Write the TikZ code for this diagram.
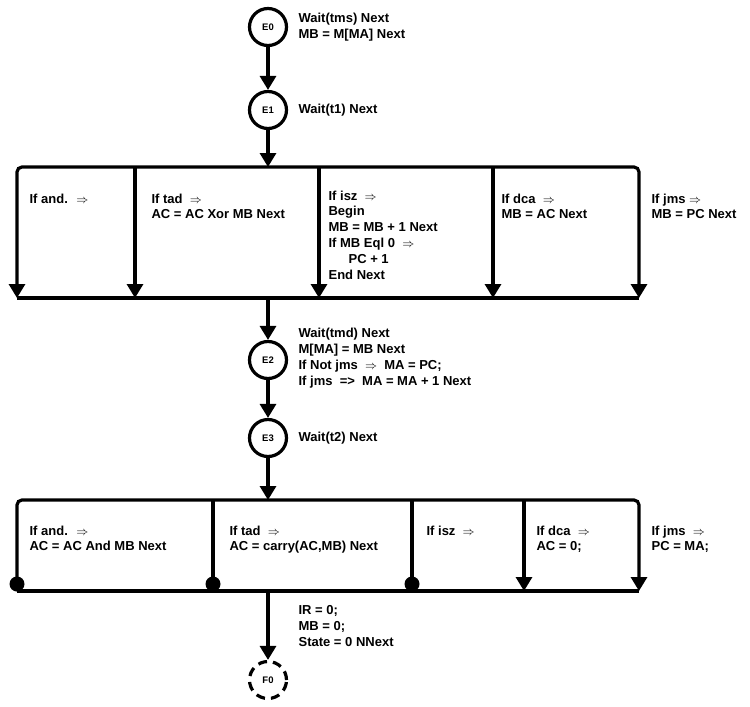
\documentclass[tikz,border=0pt]{standalone}
\usepackage{fontspec}
\setmainfont{Liberation Sans}
\usetikzlibrary{arrows.meta}
\begin{document}
\begin{tikzpicture}[x=1pt, y=-1pt, line width=3.2pt,
    tip/.style={-{Triangle[width=16pt,length=14pt]}},
    state/.style={circle, draw, line width=3.2pt, minimum size=37pt, inner sep=0pt, font=\fontsize{9.5}{10}\selectfont\bfseries},
    lbl/.style={anchor=west, align=left, inner sep=0pt, font=\fontsize{13}{15.8}\selectfont\bfseries},
    cell/.style={lbl, anchor=north west},
    dot/.style={circle, fill, inner sep=0pt, minimum size=15pt}]
  \useasboundingbox (0,0) rectangle (750,707);
  \node[state] (e0) at (268,27) {E0};
  \node[state] (e1) at (268,110) {E1};
  \node[state] (e2) at (268,360) {E2};
  \node[state] (e3) at (268,438) {E3};
  \node[state, dash pattern=on 9pt off 6pt] (f0) at (268,680) {F0};
  \node[lbl] (w0) at (297,27) {Wait(tms) Next\\MB = M[MA] Next};
  \node[lbl] (w1) at (297,110) {Wait(t1) Next};
  \node[lbl] (w2) at (297,358) {Wait(tmd) Next\\M[MA] = MB Next\\If Not jms \ $\Rightarrow$ \ MA = PC;\\If jms \ => \ MA = MA + 1 Next};
  \node[lbl] (w3) at (297,438) {Wait(t2) Next};
  \node[lbl] (w4) at (297,626) {IR = 0;\\MB = 0;\\State = 0 NNext};
  \draw[tip] (e0) -- (e1);
  \draw[tip] (e2) -- (e3);
  % first branch
  \coordinate (top1) at (268,167);
  \coordinate (bot1) at (268,298);
  \draw[tip] (e1) -- (top1);
  \draw[{Triangle[width=16pt,length=14pt]}-{Triangle[width=16pt,length=14pt]}, rounded corners=5pt]
    (17,298) -- (17,167) -- (639,167) -- (639,298);
  \foreach \xx in {135,319,493}
    \draw[tip] (\xx,167) -- (\xx,298);
  \draw (17,298) -- (639,298);
  \node[cell] (and1) at (28,192) {If and. \ $\Rightarrow$};
  \node[cell] (tad1) at (150,192) {If tad \ $\Rightarrow$\\AC = AC Xor MB Next};
  \node[cell] (isz1) at (327,189) {If isz \ $\Rightarrow$\\Begin\\MB = MB + 1 Next\\If MB Eql 0 \ $\Rightarrow$\\\hspace{20pt}PC + 1\\End Next};
  \node[cell] (dca1) at (500,192) {If dca \ $\Rightarrow$\\MB = AC Next};
  \node[cell] (jms1) at (650,192) {If jms $\Rightarrow$\\MB = PC Next};
  \draw[tip] (bot1) -- (e2);
  % second branch
  \coordinate (top2) at (268,500);
  \coordinate (bot2) at (268,591);
  \draw[tip] (e3) -- (top2);
  \draw[tip, rounded corners=5pt] (17,591) -- (17,500) -- (639,500) -- (639,591);
  \foreach \xx in {213,412}
    \draw (\xx,500) -- (\xx,591);
  \draw[tip] (524,500) -- (524,591);
  \draw (17,591) -- (639,591);
  \foreach \xx/\nm in {17/d1,213/d2,412/d3}
    \node[dot] (\nm) at (\xx,584) {};
  \node[cell] (and2) at (28,524) {If and. \ $\Rightarrow$\\AC = AC And MB Next};
  \node[cell] (tad2) at (228,524) {If tad \ $\Rightarrow$\\AC = carry(AC,MB) Next};
  \node[cell] (isz2) at (425,524) {If isz \ $\Rightarrow$};
  \node[cell] (dca2) at (535,524) {If dca \ $\Rightarrow$\\AC = 0;};
  \node[cell] (jms2) at (650,524) {If jms \ $\Rightarrow$\\PC = MA;};
  \draw[tip] (bot2) -- (f0);
\end{tikzpicture}
\end{document}
